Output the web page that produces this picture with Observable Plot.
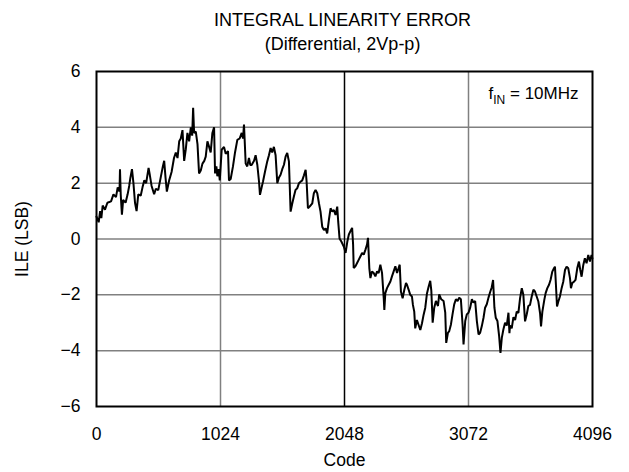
<!DOCTYPE html>
<html><head><meta charset="utf-8">
<script src="https://cdn.jsdelivr.net/npm/d3@7"></script>
<script src="https://cdn.jsdelivr.net/npm/@observablehq/plot@0.6"></script>
<style>body{margin:0;background:#fff;} svg{font-family:"Liberation Sans",Arial,sans-serif;}</style>
</head><body><div id="chart"></div>
<script>
const codes = [0,18,30,40,51,70,90,120,140,161,175,190,194,200,210,220,240,257,270,280,293,305,318,331,345,365,380,395,410,430,440,455,476,490,510,530,548,559,570,581,600,620,640,655,669,683,696,710,724,737,751,765,779,790,798,806,820,834,847,861,875,890,902,916,930,943,957,971,979,990,998,1010,1018,1034,1053,1067,1086,1094,1108,1127,1144,1163,1182,1199,1210,1218,1232,1245,1259,1270,1281,1301,1314,1328,1342,1350,1364,1375,1391,1410,1424,1438,1451,1465,1479,1493,1507,1520,1534,1548,1562,1575,1589,1603,1617,1630,1644,1658,1672,1685,1699,1713,1727,1735,1746,1760,1782,1795,1809,1823,1837,1850,1864,1878,1892,1905,1919,1933,1947,1960,1974,1988,1996,2007,2023,2043,2057,2071,2084,2097,2111,2119,2124,2138,2152,2166,2180,2193,2207,2221,2234,2242,2253,2262,2275,2289,2303,2317,2330,2344,2358,2372,2377,2385,2399,2413,2427,2440,2454,2468,2482,2495,2504,2514,2528,2542,2556,2564,2578,2591,2605,2613,2624,2632,2646,2660,2674,2688,2701,2715,2729,2743,2756,2765,2776,2789,2803,2820,2830,2847,2866,2880,2888,2902,2913,2927,2940,2954,2968,2982,2995,3009,3023,3031,3045,3058,3072,3086,3100,3113,3127,3141,3155,3168,3182,3196,3209,3223,3237,3251,3264,3275,3286,3297,3311,3325,3336,3347,3360,3374,3388,3402,3410,3415,3429,3443,3457,3470,3484,3498,3512,3525,3539,3553,3566,3580,3594,3608,3621,3635,3649,3663,3671,3682,3698,3709,3723,3737,3750,3764,3778,3786,3794,3803,3814,3827,3841,3855,3869,3882,3896,3910,3918,3929,3945,3956,3970,3984,3995,4006,4020,4033,4047,4061,4075,4088,4095];
const ile = [0.8,0.6,1.0,0.75,1.2,1.05,1.3,1.35,1.6,1.5,1.85,1.7,2.5,1.6,0.87,1.4,1.3,1.6,1.9,2.2,2.5,2.0,1.3,1.0,1.6,1.55,1.85,2.1,2.0,2.55,2.3,1.9,1.6,1.8,1.75,2.2,2.6,2.8,2.2,1.7,2.1,2.4,2.9,3.1,2.9,3.5,3.6,3.9,2.8,3.2,3.8,3.5,4.0,3.7,4.7,3.8,3.85,3.4,2.35,2.45,2.7,2.8,2.95,3.5,3.3,3.1,3.8,4.0,2.35,2.6,2.25,2.5,2.1,3.2,3.3,3.05,3.15,2.1,2.15,2.6,3.1,3.55,3.6,3.8,3.6,4.1,2.7,2.6,2.9,2.65,2.65,2.8,3.0,2.66,2.06,1.58,1.85,2.06,2.4,2.78,3.0,3.26,3.1,3.3,3.0,2.0,2.2,2.3,2.5,2.66,2.96,3.08,2.78,0.98,1.28,1.52,1.76,1.82,2.0,2.05,2.1,2.28,2.48,2.06,1.1,1.16,1.28,1.64,1.76,1.64,1.28,0.98,0.44,0.32,0.38,0.2,0.68,1.1,0.98,1.04,0.86,1.16,0.62,0.02,-0.1,-0.28,-0.5,-0.1,0.16,0.28,0.4,-0.2,-1.04,-0.98,-0.86,-0.74,-0.62,-0.5,-0.56,-0.38,-0.2,0.04,-1.04,-1.4,-1.16,-1.22,-1.34,-1.16,-1.22,-0.92,-1.22,-2.12,-2.54,-1.94,-1.76,-1.64,-1.52,-1.34,-1.16,-0.98,-1.22,-1.04,-0.92,-1.88,-2.12,-1.82,-1.58,-1.64,-1.82,-2.0,-2.06,-2.36,-2.6,-3.2,-2.9,-3.08,-3.26,-3.02,-2.72,-2.46,-1.95,-1.7,-1.5,-1.85,-3.0,-2.46,-2.22,-2.4,-1.98,-2.16,-2.22,-2.64,-3.72,-3.36,-3.3,-3.06,-2.7,-2.34,-2.16,-2.22,-2.1,-2.16,-3.06,-3.78,-2.94,-2.7,-2.64,-2.46,-2.16,-2.28,-2.22,-2.94,-3.42,-3.36,-3.12,-2.82,-2.46,-2.34,-2.1,-1.9,-1.73,-1.47,-2.46,-2.82,-2.94,-3.48,-4.08,-3.54,-3.24,-3.0,-3.1,-2.64,-3.37,-3.1,-3.2,-2.8,-2.9,-2.6,-2.65,-2.12,-1.76,-2.0,-2.95,-2.7,-2.4,-2.36,-2.06,-1.82,-1.88,-2.06,-2.24,-2.66,-3.13,-2.6,-2.18,-1.94,-1.76,-1.64,-1.46,-1.17,-1.05,-0.99,-1.64,-2.42,-2.24,-2.06,-1.76,-1.52,-1.11,-0.99,-1.05,-1.4,-1.76,-1.58,-1.52,-1.46,-1.05,-0.81,-1.11,-1.35,-0.93,-0.69,-0.87,-0.57,-0.81,-0.57,-0.7];
const xTicks = [0, 1024, 2048, 3072, 4096];
const yTicks = [-6, -4, -2, 0, 2, 4, 6];
const gridX = [1024, 3072];
const centerX = [2048];
const gridY = [-4, -2, 0, 2, 4];
const titleLines = ["INTEGRAL LINEARITY ERROR", "(Differential, 2Vp-p)"];
const xLabel = "Code";
const yLabel = "ILE (LSB)";
const annotation = "fIN = 10MHz";

const data = codes.map((c, i) => ({code: c, ile: ile[i]}));
const font = "Liberation Sans, Arial, Helvetica, sans-serif";

const plot = Plot.plot({
  width: 629, height: 472,
  marginTop: 71, marginBottom: 66, marginLeft: 96, marginRight: 37,
  style: {fontFamily: font, fontSize: "17.5px", background: "#fff", color: "#000", overflow: "visible"},
  x: {domain: [0, 4096], ticks: xTicks, tickSize: 0, tickPadding: 21, label: null, tickFormat: d => String(d)},
  y: {domain: [-6, 6], ticks: yTicks, tickSize: 0, tickPadding: 16, label: null},
  marks: [
    Plot.ruleX(gridX, {stroke: "#808080", strokeWidth: 1.5}),
    Plot.ruleY(gridY, {stroke: "#808080", strokeWidth: 1.5}),
    Plot.ruleX(centerX, {stroke: "#000", strokeWidth: 1.5}),
    Plot.line(data, {x: "code", y: "ile", stroke: "#000", strokeWidth: 2, strokeLinejoin: "miter"}),
    Plot.frame({stroke: "#000", strokeWidth: 2}),
    Plot.text([titleLines[0]], {frameAnchor: "top", dx: -2, dy: -51, textAnchor: "middle", lineAnchor: "middle", fontSize: 18}),
    Plot.text([titleLines[1]], {frameAnchor: "top", dx: -2, dy: -27, textAnchor: "middle", lineAnchor: "middle", fontSize: 18}),
    Plot.text([xLabel], {frameAnchor: "bottom", dy: 54, textAnchor: "middle", lineAnchor: "middle", fontSize: 17.5}),
    Plot.text([yLabel], {frameAnchor: "left", dx: -74, rotate: -90, textAnchor: "middle", lineAnchor: "middle", fontSize: 17.5}),
    Plot.text([annotation], {frameAnchor: "top-right", dx: -14, dy: 22, textAnchor: "end", lineAnchor: "middle", fontSize: 17})
  ]
});

d3.select(plot).selectAll("text").filter(function() { return this.textContent === annotation; })
  .each(function() {
    const t = d3.select(this);
    t.text(null);
    t.append("tspan").text("f");
    t.append("tspan").attr("dy", 5).attr("font-size", 12).text("IN");
    t.append("tspan").attr("dy", -5).text(" = 10MHz");
  });

document.getElementById("chart").appendChild(plot);
</script>
</body></html>
